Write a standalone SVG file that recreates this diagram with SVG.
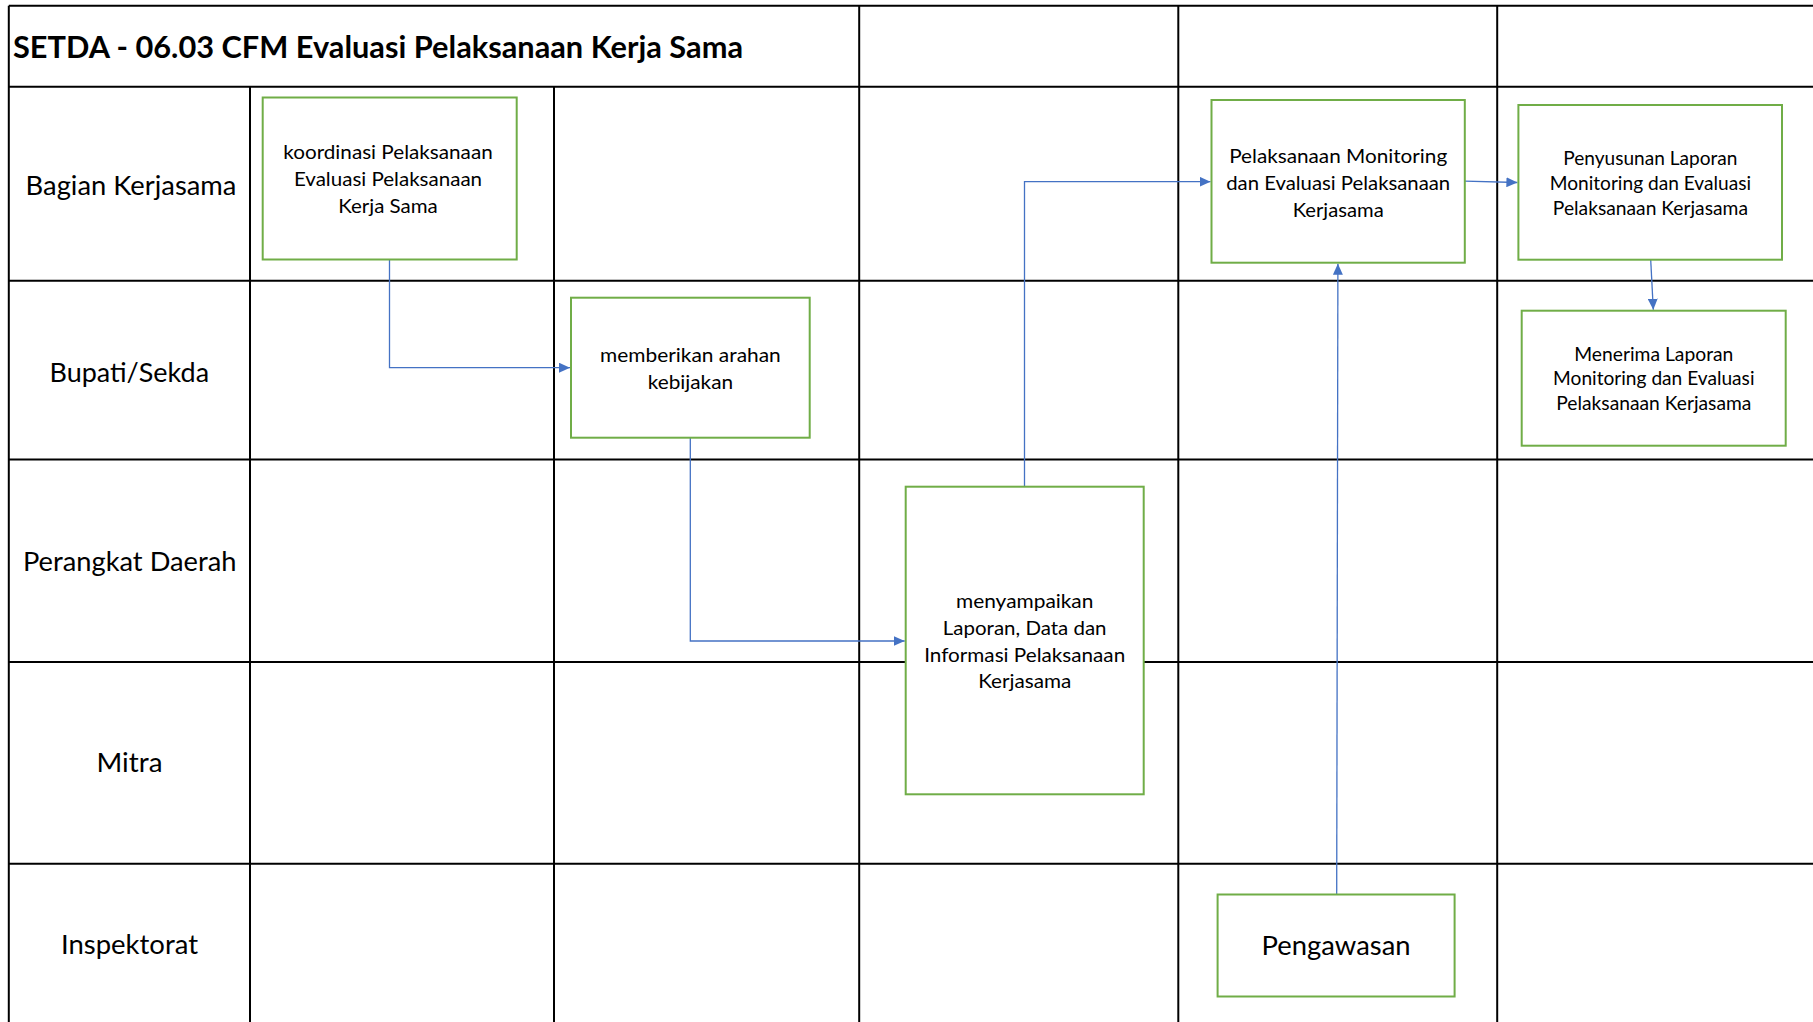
<svg xmlns="http://www.w3.org/2000/svg" width="1813" height="1022" viewBox="0 0 1813 1022">
<style>
  .grid { stroke: #000; stroke-width: 2; fill: none; }
  .box { fill: #fff; stroke: #70AD47; stroke-width: 2; }
  .t { font-family: Lato, "Liberation Sans", sans-serif; fill: #000; text-anchor: middle; }
  .title { font-family: Lato, "Liberation Sans", sans-serif; font-weight: bold; font-size: 30.5px; fill: #000; }
  .lane { font-size: 26.7px; }
  .bx { font-size: 20px; }
  .bs { font-size: 18.7px; }
  .conn { fill: none; stroke: #4472C4; stroke-width: 1.3; marker-end: url(#arr); }
</style>
<defs>
  <marker id="arr" markerUnits="userSpaceOnUse" markerWidth="11" markerHeight="10" refX="11" refY="5" orient="auto">
    <path d="M0,0 L11,5 L0,10 z" fill="#4472C4"/>
  </marker>
</defs>
<rect width="1813" height="1022" fill="#fff"/>

<g id="grid" class="grid">
  <line x1="8.8" y1="5.7" x2="1813" y2="5.7"/>
  <line x1="8.8" y1="86.7" x2="1813" y2="86.7"/>
  <line x1="8.8" y1="280.7" x2="1813" y2="280.7"/>
  <line x1="8.8" y1="459.5" x2="1813" y2="459.5"/>
  <line x1="8.8" y1="662" x2="1813" y2="662"/>
  <line x1="8.8" y1="863.7" x2="1813" y2="863.7"/>
  <line x1="8.8" y1="5.7" x2="8.8" y2="1022"/>
  <line x1="250" y1="86.7" x2="250" y2="1022"/>
  <line x1="554" y1="86.7" x2="554" y2="1022"/>
  <line x1="859.2" y1="5.7" x2="859.2" y2="1022"/>
  <line x1="1178.3" y1="5.7" x2="1178.3" y2="1022"/>
  <line x1="1497.2" y1="5.7" x2="1497.2" y2="1022"/>
</g>

<g id="title">
  <text class="title" x="13" y="57.5" textLength="730" lengthAdjust="spacingAndGlyphs">SETDA - 06.03 CFM Evaluasi Pelaksanaan Kerja Sama</text>
</g>

<g id="lane-bagian-kerjasama"><text class="t lane" x="131" y="194.5" textLength="210.8" lengthAdjust="spacingAndGlyphs">Bagian Kerjasama</text></g>
<g id="lane-bupati-sekda"><text class="t lane" x="129.3" y="381.7" textLength="159.5" lengthAdjust="spacingAndGlyphs">Bupati/Sekda</text></g>
<g id="lane-perangkat-daerah"><text class="t lane" x="129.7" y="571.3" textLength="213.5" lengthAdjust="spacingAndGlyphs">Perangkat Daerah</text></g>
<g id="lane-mitra"><text class="t lane" x="129.5" y="772" textLength="65.9" lengthAdjust="spacingAndGlyphs">Mitra</text></g>
<g id="lane-inspektorat"><text class="t lane" x="129.5" y="954" textLength="137" lengthAdjust="spacingAndGlyphs">Inspektorat</text></g>

<g id="connectors">
  <path class="conn" d="M389.5,260 V367.7 H570"/>
  <path class="conn" d="M690.3,437.7 V641 H904.7"/>
  <path class="conn" d="M1024.5,486.7 V181.7 H1210.5"/>
  <path class="conn" d="M1464.8,181.2 L1517.4,182.5"/>
  <path class="conn" d="M1650.7,259.7 L1653.3,309.7"/>
  <path class="conn" d="M1336.7,894.5 L1337.9,263.7"/>
</g>

<g id="node-koordinasi">
  <rect class="box" x="262.7" y="97.5" width="254" height="162"/>
  <text class="t bx" x="388" y="159" textLength="209.4" lengthAdjust="spacingAndGlyphs">koordinasi Pelaksanaan</text>
  <text class="t bx" x="388" y="185.8" textLength="188.2" lengthAdjust="spacingAndGlyphs">Evaluasi Pelaksanaan</text>
  <text class="t bx" x="388" y="212.6" textLength="99.6" lengthAdjust="spacingAndGlyphs">Kerja Sama</text>
</g>

<g id="node-memberikan">
  <rect class="box" x="571" y="297.7" width="238.7" height="140"/>
  <text class="t bx" x="690.4" y="362.3" textLength="180.8" lengthAdjust="spacingAndGlyphs">memberikan arahan</text>
  <text class="t bx" x="690.4" y="389" textLength="85.4" lengthAdjust="spacingAndGlyphs">kebijakan</text>
</g>

<g id="node-menyampaikan">
  <rect class="box" x="905.7" y="486.7" width="238" height="307.6"/>
  <text class="t bx" x="1024.7" y="608.3" textLength="137.4" lengthAdjust="spacingAndGlyphs">menyampaikan</text>
  <text class="t bx" x="1024.7" y="635" textLength="163.7" lengthAdjust="spacingAndGlyphs">Laporan, Data dan</text>
  <text class="t bx" x="1024.7" y="661.7" textLength="201" lengthAdjust="spacingAndGlyphs">Informasi Pelaksanaan</text>
  <text class="t bx" x="1024.7" y="688.4" textLength="93.1" lengthAdjust="spacingAndGlyphs">Kerjasama</text>
</g>

<g id="node-pelaksanaan-monitoring">
  <rect class="box" x="1211.5" y="100" width="253.3" height="162.7"/>
  <text class="t bx" x="1338.2" y="163.3" textLength="218" lengthAdjust="spacingAndGlyphs">Pelaksanaan Monitoring</text>
  <text class="t bx" x="1338.2" y="190" textLength="224" lengthAdjust="spacingAndGlyphs">dan Evaluasi Pelaksanaan</text>
  <text class="t bx" x="1338.2" y="216.7" textLength="91" lengthAdjust="spacingAndGlyphs">Kerjasama</text>
</g>

<g id="node-penyusunan">
  <rect class="box" x="1518.4" y="105" width="263.6" height="154.7"/>
  <text class="t bs" x="1650.4" y="165" textLength="174.1" lengthAdjust="spacingAndGlyphs">Penyusunan Laporan</text>
  <text class="t bs" x="1650.4" y="190" textLength="201.4" lengthAdjust="spacingAndGlyphs">Monitoring dan Evaluasi</text>
  <text class="t bs" x="1650.4" y="215" textLength="195.1" lengthAdjust="spacingAndGlyphs">Pelaksanaan Kerjasama</text>
</g>

<g id="node-menerima">
  <rect class="box" x="1521.7" y="310.7" width="264" height="135"/>
  <text class="t bs" x="1653.8" y="360.8" textLength="159.1" lengthAdjust="spacingAndGlyphs">Menerima Laporan</text>
  <text class="t bs" x="1653.8" y="385.4" textLength="201.4" lengthAdjust="spacingAndGlyphs">Monitoring dan Evaluasi</text>
  <text class="t bs" x="1653.8" y="410" textLength="195.1" lengthAdjust="spacingAndGlyphs">Pelaksanaan Kerjasama</text>
</g>

<g id="node-pengawasan">
  <rect class="box" x="1217.6" y="894.5" width="237" height="102"/>
  <text class="t lane" x="1336.1" y="955" textLength="149" lengthAdjust="spacingAndGlyphs">Pengawasan</text>
</g>
</svg>
